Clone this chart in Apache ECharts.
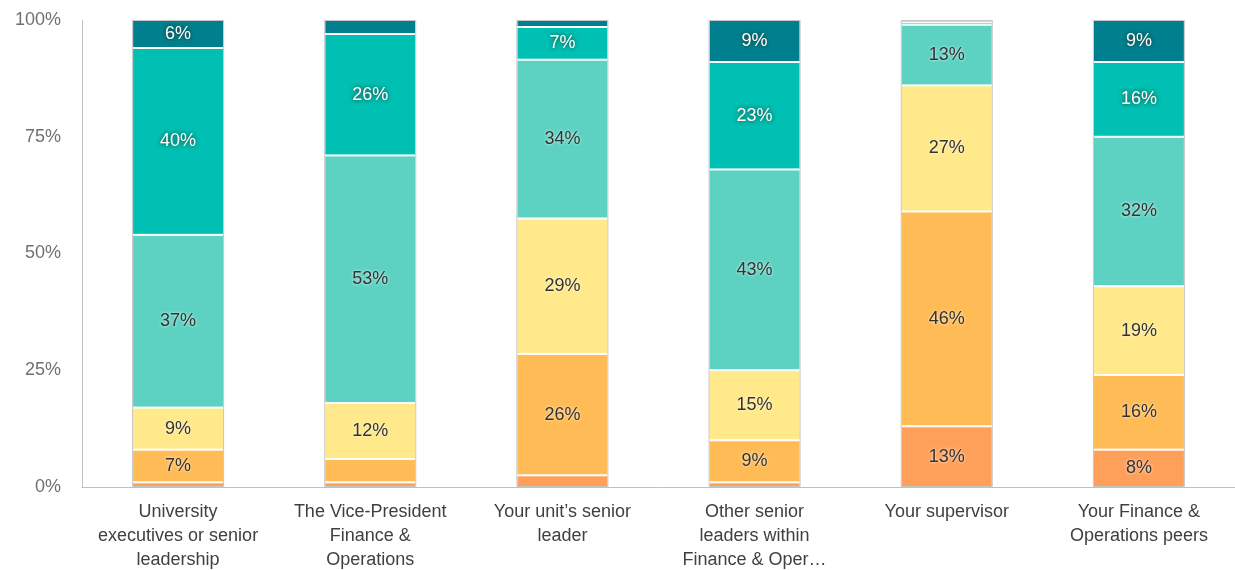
<!DOCTYPE html>
<html>
<head>
<meta charset="utf-8">
<script src="https://cdn.jsdelivr.net/npm/echarts@6/dist/echarts.min.js"></script>
<style>
  html, body { margin: 0; padding: 0; background: #fff; }
  #chart { width: 1235px; height: 570px; }
</style>
</head>
<body>
<div id="chart"></div>
<script>
// Category labels (line breaks as shown under each bar)
const categories = [
  'University\nexecutives or senior\nleadership',
  'The Vice-President\nFinance &\nOperations',
  'Your unit\u2019s senior\nleader',
  'Other senior\nleaders within\nFinance & Oper\u2026',
  'Your supervisor',
  'Your Finance &\nOperations peers'
];

// Share of responses (%) per rating level, bottom of the stack first
const rating1 = [1, 1, 2.5, 1, 13, 8];
const rating2 = [7, 5, 26, 9, 46, 16];
const rating3 = [9, 12, 29, 15, 27, 19];
const rating4 = [37, 53, 34, 43, 13, 32];
const rating5 = [40, 26, 7, 23, 0.5, 16];
const rating6 = [6, 3, 1.5, 9, 0.5, 9];

const yTicks = [0, 25, 50, 75, 100];

const seriesData = [rating1, rating2, rating3, rating4, rating5, rating6];
const seriesNames = ['Rating 1', 'Rating 2', 'Rating 3', 'Rating 4', 'Rating 5', 'Rating 6'];
const colors = ['#FFA05A', '#FFBB55', '#FFE98A', '#5DD2C2', '#00BFB3', '#00808F'];
const darkFill = [false, false, false, false, true, true];

const labelDark = {
  color: '#333333',
  textShadowColor: 'rgba(255,255,255,0.9)',
  textShadowBlur: 3
};
const labelLight = {
  color: '#ffffff',
  textShadowColor: 'rgba(40,30,10,0.85)',
  textShadowBlur: 4
};

const series = seriesData.map((d, i) => ({
  name: seriesNames[i],
  type: 'bar',
  stack: 'total',
  barWidth: 92,
  data: d,
  itemStyle: { color: colors[i], borderColor: '#ffffff', borderWidth: 1 },
  label: Object.assign({
    show: true,
    position: 'inside',
    fontFamily: 'Liberation Sans, Arial, sans-serif',
    fontSize: 18,
    formatter: p => (p.value >= 6 ? p.value + '%' : '')
  }, darkFill[i] ? labelLight : labelDark),
  emphasis: { disabled: true },
  z: 2
}));

// Thin grey frame around each full stack
series.push({
  name: 'frame',
  type: 'bar',
  barWidth: 92,
  barGap: '-100%',
  data: categories.map(() => 100),
  itemStyle: { color: 'rgba(0,0,0,0)', borderColor: '#c6c6c6', borderWidth: 1 },
  label: { show: false },
  silent: true,
  z: 3
});

const chart = echarts.init(document.getElementById('chart'));
chart.setOption({
  animation: false,
  backgroundColor: '#ffffff',
  grid: { left: 82, right: 0, top: 20, bottom: 83, outerBoundsMode: 'none', containLabel: false },
  xAxis: {
    type: 'category',
    data: categories,
    axisLine: { show: true, lineStyle: { color: '#c0c0c0', width: 1 } },
    axisTick: { show: false },
    axisLabel: {
      interval: 0,
      margin: 13,
      color: '#404040',
      fontSize: 18,
      lineHeight: 24,
      fontFamily: 'Liberation Sans, Arial, sans-serif'
    }
  },
  yAxis: {
    type: 'value',
    min: yTicks[0],
    max: yTicks[yTicks.length - 1],
    interval: yTicks[1] - yTicks[0],
    axisLine: { show: true, lineStyle: { color: '#c0c0c0', width: 1 } },
    axisTick: { show: false },
    splitLine: { show: false },
    axisLabel: {
      margin: 21,
      color: '#707070',
      fontSize: 18,
      fontFamily: 'Liberation Sans, Arial, sans-serif',
      formatter: '{value}%'
    }
  },
  series: series
});
</script>
</body>
</html>
